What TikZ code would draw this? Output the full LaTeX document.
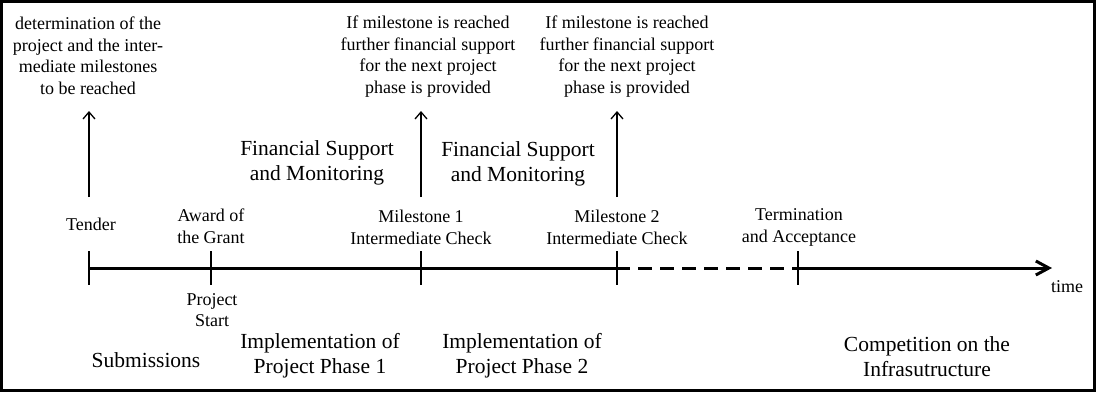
\documentclass[tikz,border=0pt]{standalone}
\usepackage{fontspec}
\setmainfont{LiberationSerif}[Extension=.ttf,UprightFont=*-Regular,BoldFont=*-Bold,ItalicFont=*-Italic,BoldItalicFont=*-BoldItalic]
\usetikzlibrary{arrows.meta}
\tikzset{
  small/.style={inner sep=0pt, align=center, font=\fontsize{18}{21.5}\selectfont},
  big/.style={inner sep=0pt, align=center, font=\fontsize{21.5}{25}\selectfont},
  tickline/.style={line width=1.3pt},
  uparrow/.style={line width=1.3pt, -{Straight Barb[length=7pt,width=12pt,line width=1.3pt]}},
  axis/.style={line width=3pt},
}
\begin{document}
\begin{tikzpicture}[x=1pt,y=-1pt]
\useasboundingbox (0,0) rectangle (1096,392);
\draw[line width=3pt] (1.5,1.5) rectangle (1094.5,390.5);

% timeline coordinates
\coordinate (t0) at (89,268);
\coordinate (d0) at (628,268);
\coordinate (d1) at (793,268);
\coordinate (tend) at (1052,268);
\draw[axis] (t0) -- (d0);
\draw[axis, dash pattern=on 13.5pt off 8.5pt, dash phase=-10pt] (d0) -- (d1);
\draw[axis, -{Straight Barb[length=13pt,width=14pt,line width=3pt]}] (d1) -- (tend);

% ticks
\foreach \n/\x in {tA/89, tB/211, tC/421, tD/617, tE/798}{
  \coordinate (\n top) at (\x,251);
  \coordinate (\n bot) at (\x,285);
  \draw[tickline] (\n top) -- (\n bot);
}

% labels above timeline
\node[small] (tender) at (91,224) {Tender};
\node[small] (award) at (211,226) {Award of\\the Grant};
\node[small] (ms1) at (421,227.5) {Milestone 1\\Intermediate Check};
\node[small] (ms2) at (617,227.5) {Milestone 2\\Intermediate Check};
\node[small] (term) at (799,227.5) {Termination\\and Acceptance};

% labels below timeline
\node[small] (pstart) at (212,310) {Project\\Start};
\node[small] (time) at (1067,287) {time};
\node[big] (subm) at (146,360) {Submissions};
\node[big] (impl1) at (320,355.5) {Implementation of\\Project Phase 1};
\node[big] (impl2) at (522,355.5) {Implementation of\\Project Phase 2};
\node[big] (comp) at (927,356.5) {Competition on the\\Infrasutructure};

% financial support
\node[big] (fs1) at (317,162.5) {Financial Support\\and Monitoring};
\node[big] (fs2) at (518,163.5) {Financial Support\\and Monitoring};

% top texts
\node[small] (det) at (88,55.5) {determination of the\\project and the inter-\\mediate milestones\\to be reached};
\node[small] (if1) at (428,56.5) {If milestone is reached\\further financial support\\for the next project\\phase is provided};
\node[small] (if2) at (627,56.5) {If milestone is reached\\further financial support\\for the next project\\phase is provided};

% vertical arrows
\coordinate (aA0) at (89,197);
\coordinate (aA1) at (89,111);
\coordinate (aC0) at (421,197);
\coordinate (aC1) at (421,111);
\coordinate (aD0) at (617,197);
\coordinate (aD1) at (617,111);
\draw[uparrow] (aA0) -- (aA1);
\draw[uparrow] (aC0) -- (aC1);
\draw[uparrow] (aD0) -- (aD1);
\end{tikzpicture}
\end{document}
